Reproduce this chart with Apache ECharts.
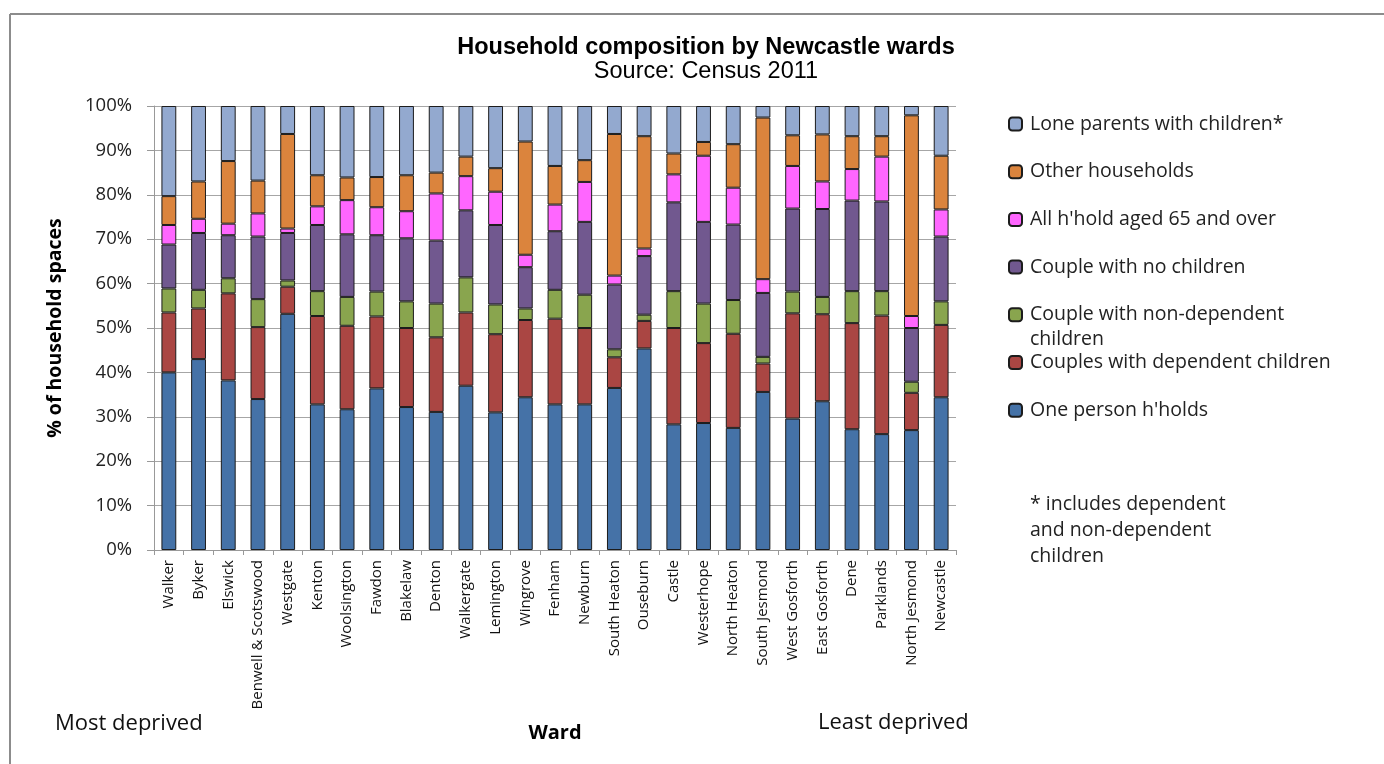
<!DOCTYPE html>
<html>
<head>
<meta charset="utf-8">
<title>Household composition by Newcastle wards</title>
<script src="https://cdn.jsdelivr.net/npm/echarts@6/dist/echarts.min.js"></script>
<style>
  html, body { margin: 0; padding: 0; background: #fff; }
  #chart { width: 1384px; height: 764px; }
</style>
</head>
<body>
<div id="chart"></div>
<script>
// Wards ordered from most to least deprived, with the city total last
const wards = ['Walker', 'Byker', 'Elswick', 'Benwell & Scotswood', 'Westgate', 'Kenton',
  'Woolsington', 'Fawdon', 'Blakelaw', 'Denton', 'Walkergate', 'Lemington', 'Wingrove',
  'Fenham', 'Newburn', 'South Heaton', 'Ouseburn', 'Castle', 'Westerhope', 'North Heaton',
  'South Jesmond', 'West Gosforth', 'East Gosforth', 'Dene', 'Parklands', 'North Jesmond',
  'Newcastle'];

// Share of household spaces (%) by household type
const onePerson = [40.0, 43.0, 38.2, 34.0, 53.2, 32.8, 31.7, 36.4, 32.2, 31.1, 37.0, 31.0, 34.4, 32.8, 32.8, 36.5, 45.4, 28.3, 28.6, 27.5, 35.6, 29.6, 33.5, 27.2, 26.1, 27.0, 34.4];
const coupleDependent = [13.5, 11.4, 19.6, 16.2, 6.1, 19.9, 18.8, 16.2, 17.8, 16.8, 16.5, 17.6, 17.4, 19.3, 17.2, 6.9, 6.2, 21.7, 18.0, 21.2, 6.4, 23.7, 19.6, 23.9, 26.7, 8.4, 16.3];
const coupleNonDependent = [5.4, 4.2, 3.4, 6.3, 1.4, 5.6, 6.5, 5.6, 6.0, 7.6, 7.9, 6.7, 2.6, 6.5, 7.5, 1.8, 1.4, 8.3, 8.9, 7.6, 1.5, 4.9, 3.9, 7.2, 5.5, 2.5, 5.3];
const coupleNoChildren = [9.9, 12.8, 9.7, 14.1, 10.7, 14.9, 14.1, 12.7, 14.2, 14.2, 15.1, 17.9, 9.3, 13.2, 16.4, 14.6, 13.2, 20.0, 18.4, 17.0, 14.4, 18.7, 19.8, 20.4, 20.2, 12.1, 14.6];
const aged65Over = [4.4, 3.2, 2.6, 5.2, 1.0, 4.2, 7.7, 6.3, 6.1, 10.6, 7.7, 7.5, 2.8, 6.0, 9.0, 2.0, 1.7, 6.3, 14.9, 8.3, 3.1, 9.6, 6.2, 7.1, 10.1, 2.7, 6.1];
const otherHouseholds = [6.5, 8.4, 14.1, 7.4, 21.3, 7.0, 5.1, 6.8, 8.1, 4.7, 4.4, 5.3, 25.5, 8.7, 4.9, 31.9, 25.3, 4.7, 3.1, 9.8, 36.4, 6.9, 10.6, 7.4, 4.6, 45.2, 12.1];
const loneParents = [20.3, 17.0, 12.4, 16.8, 6.3, 15.6, 16.1, 16.0, 15.6, 15.0, 11.4, 14.0, 8.0, 13.5, 12.2, 6.3, 6.8, 10.7, 8.1, 8.6, 2.6, 6.6, 6.4, 6.8, 6.8, 2.1, 11.2];

const seriesNames = ["One person h'holds", 'Couples with dependent children',
  'Couple with non-dependent', 'Couple with no children', "All h'hold aged 65 and over",
  'Other households', 'Lone parents with children*'];
const seriesData = [onePerson, coupleDependent, coupleNonDependent, coupleNoChildren,
  aged65Over, otherHouseholds, loneParents];
const seriesColors = ['#4572A7', '#AA4643', '#89A54E', '#71588F', '#FF66FF', '#DB843D', '#93A9CF'];

const yTicks = [0, 10, 20, 30, 40, 50, 60, 70, 80, 90, 100];

const bodyFont = 'Open Sans';
const chart = echarts.init(document.getElementById('chart'), null, { renderer: 'canvas' });

const series = seriesNames.map((name, i) => ({
  name: name,
  type: 'bar',
  stack: 'households',
  barWidth: '50%',
  data: seriesData[i],
  itemStyle: { color: seriesColors[i], borderColor: '#1c1c1c', borderWidth: 1 },
  emphasis: { disabled: true }
}));

chart.setOption({
  backgroundColor: '#ffffff',
  animation: false,
  title: {
    text: 'Household composition by Newcastle wards',
    subtext: 'Source: Census 2011',
    left: 701,
    top: 31,
    textAlign: 'center',
    itemGap: 0,
    textStyle: { fontFamily: 'Liberation Sans', fontWeight: 'bold', fontSize: 23.5, color: '#000' },
    subtextStyle: { fontFamily: 'Liberation Sans', fontSize: 23.5, color: '#000' }
  },
  legend: {
    orient: 'vertical',
    left: 1008,
    top: 112,
    padding: 0,
    itemWidth: 13,
    itemHeight: 13,
    itemGap: 23.7,
    data: seriesNames.slice().reverse(),
    selectedMode: false,
    textStyle: { fontFamily: bodyFont, fontSize: 19.5, color: '#222', lineHeight: 24, padding: [0, 0, 0, 3] }
  },
  grid: { left: 154, right: 428, top: 106, bottom: 214, containLabel: false },
  xAxis: {
    type: 'category',
    data: wards,
    axisLine: { lineStyle: { color: '#999', width: 1 } },
    axisTick: { show: true, length: 5, lineStyle: { color: '#999' } },
    axisLabel: { interval: 0, rotate: 90, margin: 10, fontFamily: bodyFont, fontSize: 15, color: '#111' },
    name: 'Ward',
    nameLocation: 'middle',
    nameGap: 173,
    nameTextStyle: { fontFamily: bodyFont, fontWeight: 'bold', fontSize: 20, color: '#000' }
  },
  yAxis: {
    type: 'value',
    min: yTicks[0],
    max: yTicks[yTicks.length - 1],
    interval: 10,
    axisLine: { show: true, lineStyle: { color: '#999', width: 1 } },
    axisTick: { show: true, inside: false, length: 7, lineStyle: { color: '#999' } },
    splitLine: { show: true, lineStyle: { color: '#a6a6a6', width: 1 } },
    axisLabel: { formatter: '{value}%', margin: 22, fontFamily: bodyFont, fontSize: 18.5, color: '#222' },
    name: '% of household spaces',
    nameLocation: 'middle',
    nameGap: 89,
    nameRotate: 90,
    nameTextStyle: { fontFamily: bodyFont, fontWeight: 'bold', fontSize: 19.5, color: '#000' }
  },
  series: series,
  graphic: [
    // frame around the chart area
    { type: 'line', shape: { x1: 10, y1: 14, x2: 1384, y2: 14 }, style: { stroke: '#8c8c8c', lineWidth: 2 } },
    { type: 'line', shape: { x1: 10, y1: 14, x2: 10, y2: 764 }, style: { stroke: '#8c8c8c', lineWidth: 2 } },
    // wrapped second line of the non-dependent legend entry
    { type: 'text', left: 1030, top: 329, style: { text: 'children', font: '19.5px "Open Sans"', fill: '#222' } },
    // footnote for the lone parents category
    { type: 'text', left: 1030, top: 491, style: { text: '* includes dependent\nand non-dependent\nchildren', font: '19.5px "Open Sans"', lineHeight: 26, fill: '#222' } },
    { type: 'text', left: 55, top: 713, style: { text: 'Most deprived', font: '22px "Open Sans"', fill: '#111' } },
    { type: 'text', left: 818, top: 712, style: { text: 'Least deprived', font: '22px "Open Sans"', fill: '#111' } }
  ]
});
</script>
</body>
</html>
